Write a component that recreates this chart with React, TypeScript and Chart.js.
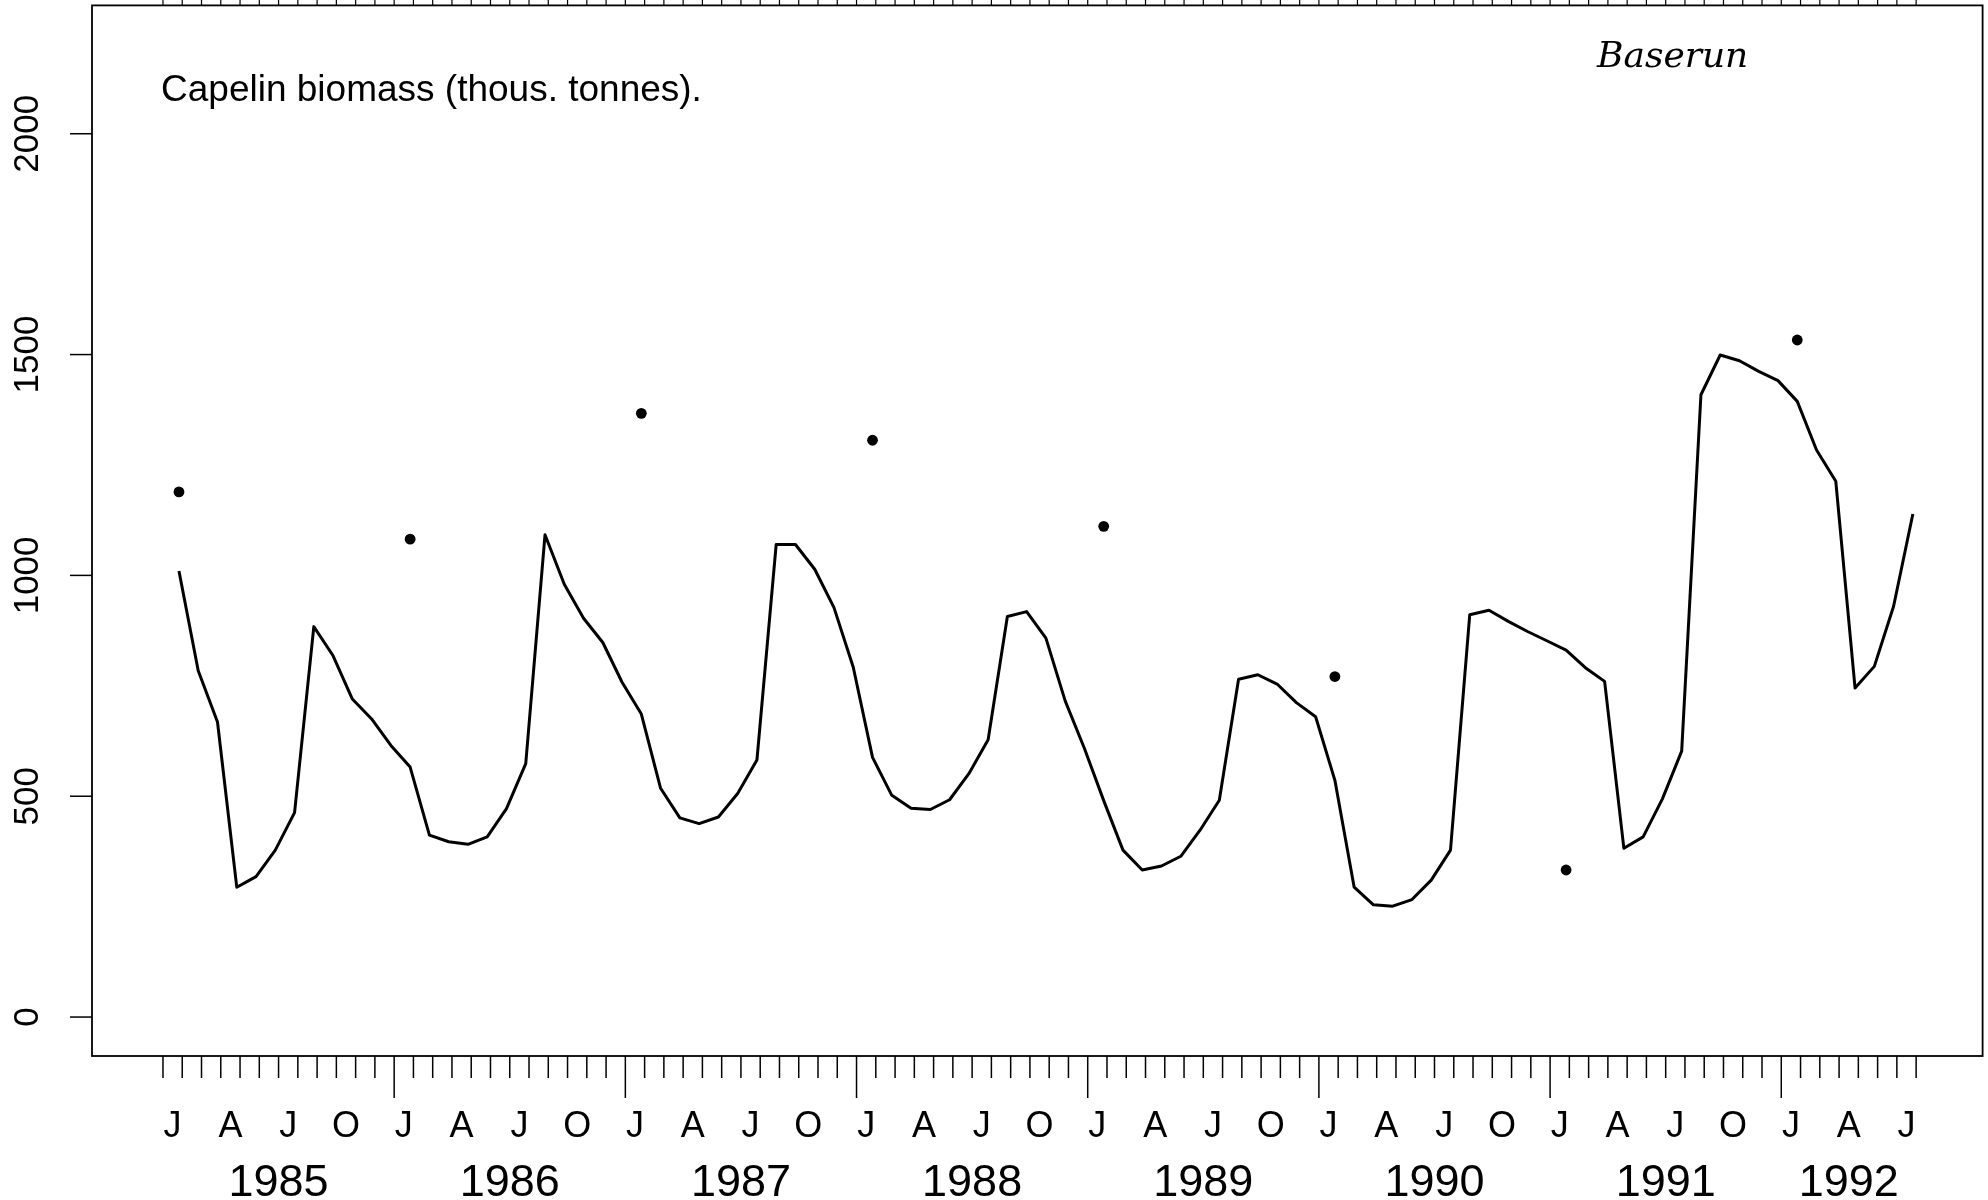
import React, { useEffect, useRef } from 'react';
import { Chart, registerables } from 'chart.js';

Chart.register(...registerables);

// Calendar layout of the time axis
const years = [1985, 1986, 1987, 1988, 1989, 1990, 1991, 1992];
const quarterLabels = ['J', 'A', 'J', 'O'];
const yTicks = [0, 500, 1000, 1500, 2000];

// Monthly model biomass (thous. tonnes), one value per month from Jan 1985
const biomass1985 = [1010, 784, 668, 294, 318, 378, 463, 884, 818, 720, 675, 615];
const biomass1986 = [566, 412, 397, 391, 408, 472, 574, 1092, 980, 903, 848, 758];
const biomass1987 = [686, 518, 451, 438, 453, 506, 582, 1070, 1070, 1014, 927, 792];
const biomass1988 = [588, 502, 473, 470, 492, 551, 628, 907, 918, 858, 716, 608];
const biomass1989 = [490, 378, 333, 342, 364, 423, 491, 765, 775, 754, 712, 680];
const biomass1990 = [536, 294, 254, 251, 266, 310, 378, 911, 921, 896, 873, 852];
const biomass1991 = [831, 791, 760, 382, 408, 494, 602, 1409, 1499, 1486, 1462, 1441];
const biomass1992 = [1394, 1284, 1213, 745, 794, 930, 1139];

const biomass = [
  ...biomass1985, ...biomass1986, ...biomass1987, ...biomass1988,
  ...biomass1989, ...biomass1990, ...biomass1991, ...biomass1992,
];

// Annual survey estimates, taken at the start of each year
const surveyBiomass = [1189, 1082, 1367, 1306, 1111, 771, 333, 1533];

// Values are stamped late in their month
const monthPhase = 0.83;

const FONT = '"Liberation Sans", Arial, Helvetica, sans-serif';

const rAxesPlugin = {
  id: 'rAxes',
  afterDraw(chart: any) {
    const { ctx, chartArea: a, scales } = chart;
    const xs = scales.x;
    const ys = scales.y;
    const seg = (x1: number, y1: number, x2: number, y2: number) => {
      ctx.beginPath();
      ctx.moveTo(x1, y1);
      ctx.lineTo(x2, y2);
      ctx.stroke();
    };

    ctx.save();
    ctx.strokeStyle = '#000';
    ctx.fillStyle = '#000';
    ctx.lineCap = 'butt';

    // frame
    ctx.lineWidth = 1.8;
    ctx.strokeRect(a.left, a.top, a.right - a.left, a.bottom - a.top);

    // y axis ticks and rotated labels
    ctx.lineWidth = 1.5;
    ctx.font = `35px ${FONT}`;
    ctx.textAlign = 'center';
    ctx.textBaseline = 'alphabetic';
    yTicks.forEach((v) => {
      const py = ys.getPixelForValue(v);
      seg(a.left - 22, py, a.left, py);
      ctx.save();
      ctx.translate(38, py);
      ctx.rotate(-Math.PI / 2);
      ctx.fillText(String(v), 0, 0);
      ctx.restore();
    });

    // monthly ticks below the frame, long ticks at each new year
    const nTicks = biomass.length;
    for (let m = 0; m <= nTicks; m++) {
      const px = xs.getPixelForValue(m);
      const major = m > 0 && m % 12 === 0;
      seg(px, a.bottom, px, a.bottom + (major ? 42 : 22));
      // short month marks along the top edge
      ctx.lineWidth = 1.2;
      seg(px, 0, px, a.top);
      ctx.lineWidth = 1.5;
    }

    // quarter initials
    ctx.font = `36px ${FONT}`;
    for (let m = 0; m <= nTicks; m += 3) {
      const px = xs.getPixelForValue(m + 0.5);
      ctx.fillText(quarterLabels[(m / 3) % 4], px, 1137);
    }

    // year labels, centred on the months they cover
    ctx.font = `45px ${FONT}`;
    years.forEach((yr, k) => {
      const start = k * 12;
      const end = Math.min(start + 12, nTicks);
      const px = xs.getPixelForValue((start + end) / 2);
      ctx.fillText(String(yr), px, 1196);
    });

    // panel heading
    ctx.textAlign = 'left';
    ctx.font = `37px ${FONT}`;
    ctx.fillText('Capelin biomass (thous. tonnes).', 161, 101);

    // run name
    ctx.font = 'italic 36px "DejaVu Serif", serif';
    ctx.fillText('Baserun', 1597, 67);

    ctx.restore();
  },
};

export default function App() {
  const canvasRef = useRef<HTMLCanvasElement | null>(null);

  useEffect(() => {
    const canvas = canvasRef.current;
    if (!canvas) return;
    const modelPoints = biomass.map((v, i) => ({ x: i + monthPhase, y: v }));
    const surveyPoints = surveyBiomass.map((v, k) => ({ x: k * 12 + monthPhase, y: v }));

    const chart = new Chart(canvas, {
      type: 'scatter',
      data: {
        datasets: [
          {
            label: 'Model',
            data: modelPoints,
            showLine: true,
            borderColor: '#000',
            borderWidth: 3,
            borderJoinStyle: 'round',
            pointRadius: 0,
            tension: 0,
          },
          {
            label: 'Survey',
            data: surveyPoints,
            showLine: false,
            pointRadius: 5.4,
            pointBackgroundColor: '#000',
            pointBorderColor: '#000',
            pointBorderWidth: 0,
          },
        ],
      },
      options: {
        responsive: false,
        animation: false,
        devicePixelRatio: 1,
        layout: { padding: { left: 92, right: 5, top: 4, bottom: 144 } },
        plugins: {
          legend: { display: false },
          tooltip: { enabled: false },
          title: { display: false },
        },
        scales: {
          x: { type: 'linear', min: -3.684, max: 94.45, display: false },
          y: { type: 'linear', min: -88.2, max: 2290.6, display: false },
        },
      },
      plugins: [rAxesPlugin],
    });
    return () => chart.destroy();
  }, []);

  return (
    <div style={{ position: 'absolute', left: 0, top: 0, width: 1988, height: 1200, background: '#fff' }}>
      <canvas ref={canvasRef} width={1988} height={1200} style={{ display: 'block' }} />
    </div>
  );
}
